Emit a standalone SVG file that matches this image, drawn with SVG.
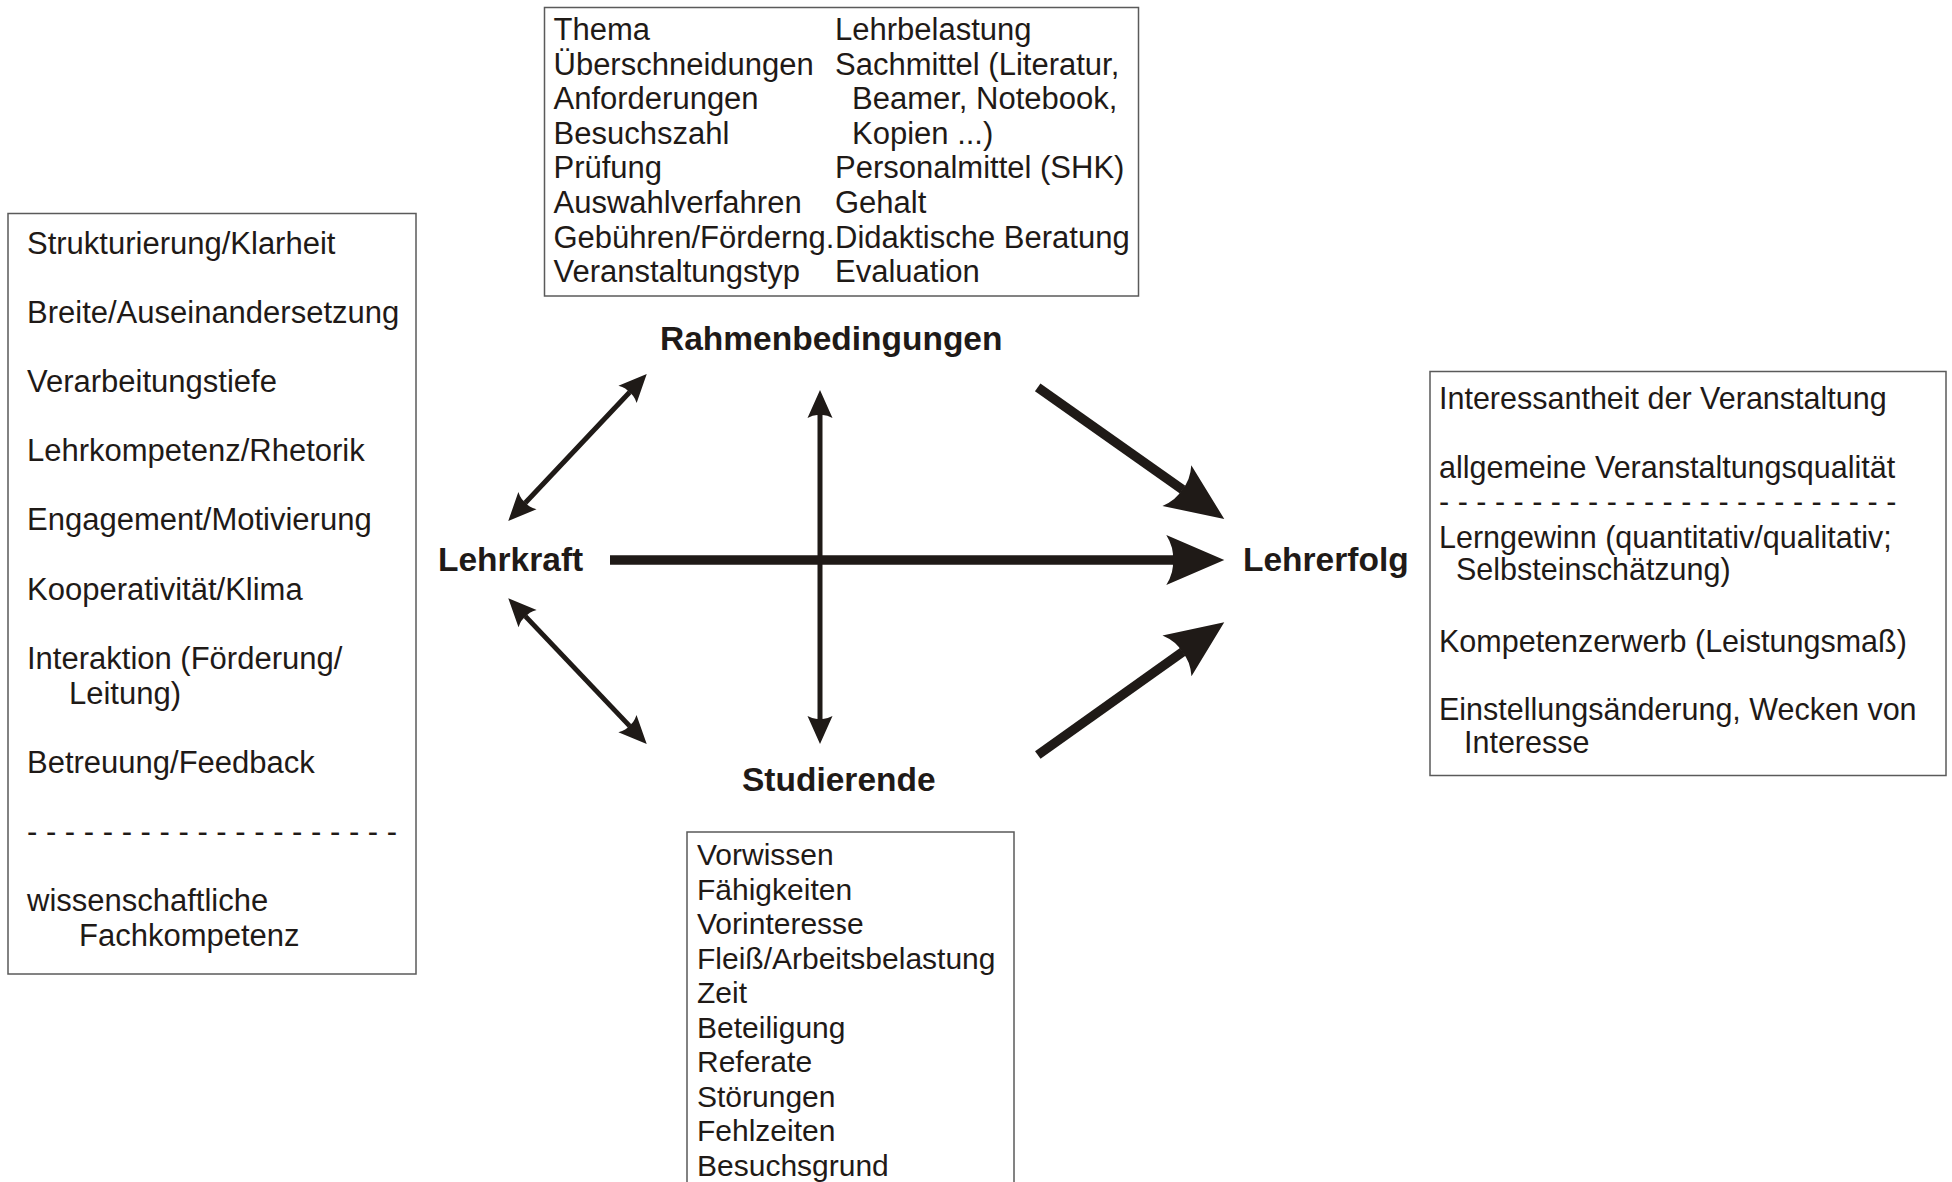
<svg xmlns="http://www.w3.org/2000/svg" width="1952" height="1182" viewBox="0 0 1952 1182">
<style>
text{font-family:"Liberation Sans",Arial,sans-serif;fill:#1f1a17}
.t{font-size:31px}
.r{font-size:30.5px}
.b{font-size:30px}
.lbl{font-size:33.5px;font-weight:bold}
.box{fill:#fff;stroke:#5a5a5a;stroke-width:1.5}
.thin{stroke:#1f1a17;stroke-width:5;fill:none;marker-start:url(#hs);marker-end:url(#hs)}
.thick{stroke:#1f1a17;stroke-width:9.5;fill:none;marker-end:url(#hl)}
</style>
<defs>
<marker id="hs" markerUnits="userSpaceOnUse" orient="auto-start-reverse" refX="3" refY="0" markerWidth="40" markerHeight="40" viewBox="-2 -20 40 40" overflow="visible">
<path d="M28,0 L0,-12.5 Q4,-5 2.5,0 Q4,5 0,12.5 Z" fill="#1f1a17"/>
</marker>
<marker id="hl" markerUnits="userSpaceOnUse" orient="auto" refX="7" refY="0" markerWidth="70" markerHeight="60" viewBox="-2 -30 70 60" overflow="visible">
<path d="M58,0 L0,-25 Q8,-12 6.5,0 Q8,12 0,25 Z" fill="#1f1a17"/>
</marker>
</defs>
<rect width="1952" height="1182" fill="#fff"/>

<g id="rahmen-box">
<rect class="box" x="544.5" y="7.5" width="594" height="288.5"/>
<text class="t" x="553.5" y="40">Thema</text>
<text class="t" x="553.5" y="74.6">Überschneidungen</text>
<text class="t" x="553.5" y="109.2">Anforderungen</text>
<text class="t" x="553.5" y="143.8">Besuchszahl</text>
<text class="t" x="553.5" y="178.4">Prüfung</text>
<text class="t" x="553.5" y="213">Auswahlverfahren</text>
<text class="t" x="553.5" y="247.6">Gebühren/Förderng.</text>
<text class="t" x="553.5" y="282.2">Veranstaltungstyp</text>
<text class="t" x="835" y="40">Lehrbelastung</text>
<text class="t" x="835" y="74.6">Sachmittel (Literatur,</text>
<text class="t" x="852" y="109.2">Beamer, Notebook,</text>
<text class="t" x="852" y="143.8">Kopien ...)</text>
<text class="t" x="835" y="178.4">Personalmittel (SHK)</text>
<text class="t" x="835" y="213">Gehalt</text>
<text class="t" x="835" y="247.6">Didaktische Beratung</text>
<text class="t" x="835" y="282.2">Evaluation</text>
</g>

<g id="lehrkraft-box">
<rect class="box" x="8" y="213.5" width="408" height="760.5"/>
<text class="t" x="27" y="254">Strukturierung/Klarheit</text>
<text class="t" x="27" y="323">Breite/Auseinandersetzung</text>
<text class="t" x="27" y="392">Verarbeitungstiefe</text>
<text class="t" x="27" y="461">Lehrkompetenz/Rhetorik</text>
<text class="t" x="27" y="530">Engagement/Motivierung</text>
<text class="t" x="27" y="600">Kooperativität/Klima</text>
<text class="t" x="27" y="669">Interaktion (Förderung/</text>
<text class="t" x="69" y="704">Leitung)</text>
<text class="t" x="27" y="773">Betreuung/Feedback</text>
<text class="t" x="27" y="842">- - - - - - - - - - - - - - - - - - - -</text>
<text class="t" x="27" y="911">wissenschaftliche</text>
<text class="t" x="79" y="946">Fachkompetenz</text>
</g>

<g id="lehrerfolg-box">
<rect class="box" x="1430" y="371.5" width="516" height="404"/>
<text class="r" x="1439" y="409">Interessantheit der Veranstaltung</text>
<text class="r" x="1439" y="478">allgemeine Veranstaltungsqualität</text>
<text class="r" x="1439" y="512">- - - - - - - - - - - - - - - - - - - - - - - - -</text>
<text class="r" x="1439" y="548">Lerngewinn (quantitativ/qualitativ;</text>
<text class="r" x="1456" y="580">Selbsteinschätzung)</text>
<text class="r" x="1439" y="652">Kompetenzerwerb (Leistungsmaß)</text>
<text class="r" x="1439" y="720">Einstellungsänderung, Wecken von</text>
<text class="r" x="1464" y="753">Interesse</text>
</g>

<g id="studierende-box">
<rect class="box" x="687" y="832" width="327" height="380"/>
<text class="b" x="697" y="865">Vorwissen</text>
<text class="b" x="697" y="899.5">Fähigkeiten</text>
<text class="b" x="697" y="934">Vorinteresse</text>
<text class="b" x="697" y="968.5">Fleiß/Arbeitsbelastung</text>
<text class="b" x="697" y="1003">Zeit</text>
<text class="b" x="697" y="1037.5">Beteiligung</text>
<text class="b" x="697" y="1072">Referate</text>
<text class="b" x="697" y="1106.5">Störungen</text>
<text class="b" x="697" y="1141">Fehlzeiten</text>
<text class="b" x="697" y="1175.5">Besuchsgrund</text>
</g>

<g id="rahmenbedingungen"><text class="lbl" x="660" y="350">Rahmenbedingungen</text></g>
<g id="lehrkraft"><text class="lbl" x="438" y="571">Lehrkraft</text></g>
<g id="studierende"><text class="lbl" x="742" y="791">Studierende</text></g>
<g id="lehrerfolg"><text class="lbl" x="1243" y="571">Lehrerfolg</text></g>

<g id="connectors">
<line class="thin" x1="820" y1="415" x2="820" y2="719"/>
<line class="thin" x1="525.4" y1="502.8" x2="629.6" y2="392.2"/>
<line class="thin" x1="525.5" y1="616.4" x2="629.5" y2="725.9"/>
<line class="thick" x1="610" y1="560" x2="1173.3" y2="560"/>
<line class="thick" x1="1037.7" y1="387.3" x2="1182.6" y2="489.6"/>
<line class="thick" x1="1037.8" y1="755" x2="1182.7" y2="651.9"/>
</g>
</svg>
